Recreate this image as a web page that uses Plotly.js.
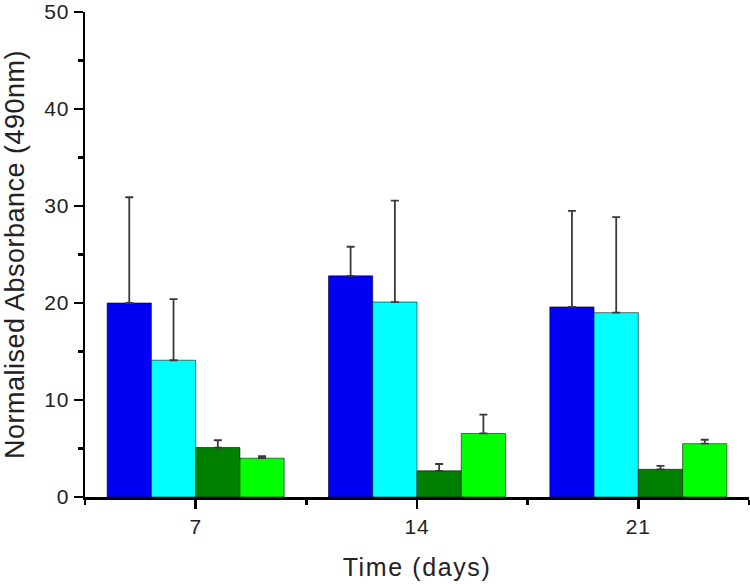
<!DOCTYPE html>
<html>
<head>
<meta charset="utf-8">
<script src="https://cdn.plot.ly/plotly-3.0.1.min.js"></script>
<style>
html,body{margin:0;padding:0;background:#fff;}
#chart{width:750px;height:584px;}
#chart .xtick text, #chart .ytick text{letter-spacing:0.8px;}
#chart text.xtitle{letter-spacing:1.6px;}
#chart text.ytitle{letter-spacing:0.5px;}
</style>
</head>
<body>
<div id="chart"></div>
<script>
var categories = ['7', '14', '21'];
var seriesNames = ['Series A', 'Series B', 'Series C', 'Series D'];
var seriesColors = ['#0000f5', '#00ffff', '#008000', '#00ff00'];
var valuesA = [20.0, 22.8, 19.6];
var valuesB = [14.1, 20.1, 19.0];
var valuesC = [5.1, 2.7, 2.85];
var valuesD = [4.0, 6.55, 5.5];
var errA = [10.9, 3.0, 9.9];
var errB = [6.3, 10.45, 9.85];
var errC = [0.75, 0.7, 0.35];
var errD = [0.2, 1.95, 0.4];
var yTicks = [0, 10, 20, 30, 40, 50];

var values = [valuesA, valuesB, valuesC, valuesD];
var errs = [errA, errB, errC, errD];
var xpos = categories.map(function (c, i) { return i; });

var traces = values.map(function (v, k) {
  return {
    type: 'bar',
    name: seriesNames[k],
    x: xpos,
    y: v,
    marker: { color: seriesColors[k], line: { color: 'rgba(0,0,0,0.55)', width: 1 } },
    error_y: {
      type: 'data', symmetric: false, array: errs[k],
      arrayminus: v.map(function () { return 0; }),
      color: '#3a3a3a', thickness: 1.8, width: 4
    },
    hoverinfo: 'y'
  };
});

var font = 'Liberation Sans, Arial, sans-serif';
var layout = {
  width: 750, height: 584,
  margin: { l: 85, r: 1, t: 12, b: 87 },
  paper_bgcolor: '#fff', plot_bgcolor: '#fff',
  barmode: 'group', bargap: 0.2, bargroupgap: 0,
  showlegend: false,
  font: { family: font, color: '#222' },
  xaxis: {
    range: [-0.5, 2.5],
    tickvals: xpos, ticktext: categories,
    showline: true, linecolor: '#000', linewidth: 2.5,
    ticks: 'outside', ticklen: 9, tickwidth: 2.5, tickcolor: '#000',
    minor: { dtick: 0.5, tick0: 0.5, ticks: 'outside', ticklen: 5, tickwidth: 2.5, tickcolor: '#000', showgrid: false },
    showgrid: false, zeroline: false,
    tickfont: { size: 21, family: font, color: '#222' },
    title: { text: 'Time (days)', font: { size: 25, family: font, color: '#222' }, standoff: 22 }
  },
  yaxis: {
    range: [0, 50],
    tickvals: yTicks,
    ticklabeloverflow: 'allow',
    showline: true, linecolor: '#000', linewidth: 2.5,
    ticks: 'outside', ticklen: 9, tickwidth: 2.5, tickcolor: '#000',
    minor: { dtick: 5, ticks: 'outside', ticklen: 5, tickwidth: 2.5, tickcolor: '#000', showgrid: false },
    showgrid: false, zeroline: false,
    tickfont: { size: 21, family: font, color: '#222' },
    title: { text: 'Normalised Absorbance (490nm)', font: { size: 27, family: font, color: '#222' }, standoff: 17 }
  }
};

Plotly.newPlot('chart', traces, layout, { staticPlot: true, displayModeBar: false });
</script>
</body>
</html>
